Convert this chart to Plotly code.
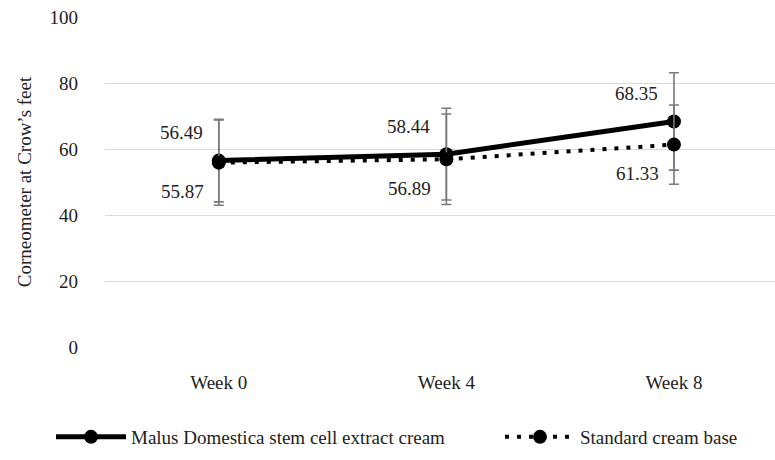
import plotly.graph_objects as go

weeks = ["Week 0", "Week 4", "Week 8"]
malus = [56.49, 58.44, 68.35]
malus_err = [12.5, 13.9, 14.75]
standard = [55.87, 56.89, 61.33]
standard_err = [12.9, 13.7, 12.0]
y_ticks = [0, 20, 40, 60, 80, 100]

FONT = "Liberation Serif, Times New Roman, serif"
ERR = "#7a7a7a"
TXT = "#222"

fig = go.Figure()
fig.add_trace(go.Scatter(
    x=weeks, y=malus, name="Malus Domestica stem cell extract cream",
    mode="lines+markers", legend="legend",
    line=dict(color="black", width=5),
    marker=dict(color="black", size=14),
    error_y=dict(type="data", array=malus_err, color=ERR, thickness=1.6, width=5),
))
fig.add_trace(go.Scatter(
    x=weeks, y=standard, name="Standard cream base",
    mode="lines+markers", legend="legend2",
    line=dict(color="black", width=4, dash="4px,8px"),
    marker=dict(color="black", size=14),
    error_y=dict(type="data", array=standard_err, color=ERR, thickness=1.6, width=5),
))

for w, v in zip(weeks, malus):
    fig.add_annotation(x=w, y=v, text=f"{v:.2f}", showarrow=False,
                       xanchor="right", yanchor="middle", xshift=-14, yshift=28,
                       font=dict(family=FONT, size=19, color=TXT))
for w, v in zip(weeks, standard):
    fig.add_annotation(x=w, y=v, text=f"{v:.2f}", showarrow=False,
                       xanchor="right", yanchor="middle", xshift=-13, yshift=-29,
                       font=dict(family=FONT, size=19, color=TXT))

leg_common = dict(orientation="h", xref="container", yref="container",
                  y=0.05, yanchor="middle", xanchor="left",
                  font=dict(family=FONT, size=19, color=TXT),
                  itemwidth=70, bgcolor="rgba(0,0,0,0)")

fig.update_layout(
    width=775, height=460,
    margin=dict(l=105, r=0, t=17, b=113),
    paper_bgcolor="white", plot_bgcolor="white",
    font=dict(family=FONT, size=19, color=TXT),
    showlegend=True,
    legend=dict(x=51 / 775, **leg_common),
    legend2=dict(x=500 / 775, **leg_common),
)
fig.update_xaxes(type="category", range=[-0.5, 2.444], showgrid=False,
                 showline=False, zeroline=False, ticks="", ticklabelstandoff=22,
                 tickfont=dict(family=FONT, size=19, color=TXT))
fig.update_yaxes(range=[0, 100], tickvals=y_ticks, showgrid=True, gridcolor="#d9d9d9",
                 gridwidth=1.3, zeroline=False, showline=False, ticks="",
                 ticklabelstandoff=26,
                 tickfont=dict(family=FONT, size=19, color=TXT),
                 title=dict(text="Corneometer at Crow\u2019s feet", standoff=12,
                            font=dict(family=FONT, size=19, color=TXT)))

fig.write_html("out.html")
